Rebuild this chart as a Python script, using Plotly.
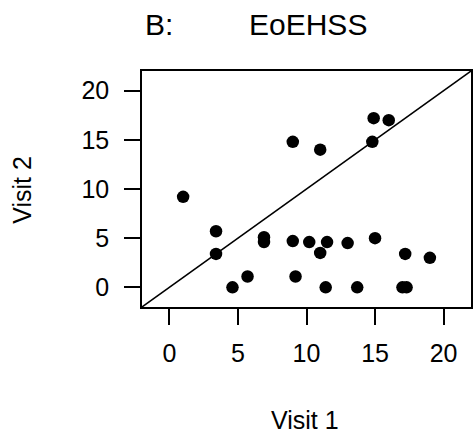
import plotly.graph_objects as go

# EoEHSS scores per patient at the two visits
visit1 = [1.0, 3.4, 3.4, 4.6, 5.7, 6.9, 6.9, 9.0, 9.0, 9.2, 10.2, 11.0, 11.0, 11.5,
          11.4, 13.0, 13.7, 14.9, 14.8, 15.0, 16.0, 17.2, 17.0, 17.3, 19.0]
visit2 = [9.2, 5.7, 3.4, 0.0, 1.1, 5.1, 4.6, 14.8, 4.7, 1.1, 4.6, 14.0, 3.5, 4.6,
          0.0, 4.5, 0.0, 17.2, 14.8, 5.0, 17.0, 3.4, 0.0, 0.0, 3.0]
tick_vals = [0, 5, 10, 15, 20]
axis_range = [-2, 22]
identity_line = [-2, 22]

FONT = "Liberation Sans, Arial, Helvetica, sans-serif"

# plot area in pixels (for placing the free text)
W, H = 475, 446
L, R, T, B = 142, 2, 71, 139
pw, ph = W - L - R, H - T - B


def px_x(px):
    return (px - L) / pw


def px_y(py):
    return (H - B - py) / ph


fig = go.Figure()
fig.add_trace(go.Scatter(x=identity_line, y=identity_line, mode="lines",
                         line=dict(color="black", width=1.5), hoverinfo="skip"))
fig.add_trace(go.Scatter(x=visit1, y=visit2, mode="markers",
                         marker=dict(color="black", size=12.5, line=dict(width=0))))

axis_common = dict(range=axis_range, tickvals=tick_vals, ticks="outside", ticklen=16,
                   tickwidth=1.5, tickcolor="black", showline=True, linecolor="black",
                   linewidth=1.5, mirror=True, showgrid=False, zeroline=False,
                   tickfont=dict(family=FONT, size=25, color="black"))

fig.update_layout(
    width=W, height=H,
    margin=dict(l=L, r=R, t=T, b=B),
    paper_bgcolor="white", plot_bgcolor="white",
    showlegend=False,
    xaxis=dict(**axis_common, ticklabelstandoff=7),
    yaxis=dict(**axis_common, ticklabelstandoff=10),
    annotations=[
        dict(text="B:", x=px_x(143), y=px_y(24), xref="paper", yref="paper",
             xanchor="left", yanchor="middle", showarrow=False,
             font=dict(family=FONT, size=30, color="black")),
        dict(text="EoEHSS", x=px_x(248), y=px_y(24), xref="paper", yref="paper",
             xanchor="left", yanchor="middle", showarrow=False,
             font=dict(family=FONT, size=30, color="black")),
        dict(text="Visit 1", x=px_x(306), y=px_y(420), xref="paper", yref="paper",
             xanchor="center", yanchor="middle", showarrow=False,
             font=dict(family=FONT, size=25, color="black")),
        dict(text="Visit 2", x=px_x(21), y=px_y(190), xref="paper", yref="paper",
             xanchor="center", yanchor="middle", showarrow=False, textangle=-90,
             font=dict(family=FONT, size=25, color="black")),
    ],
)

fig.write_html("out.html")
